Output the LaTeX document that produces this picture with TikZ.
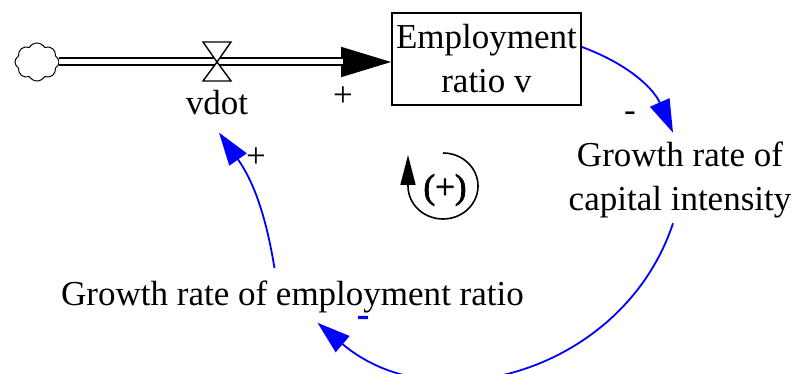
\documentclass[tikz,border=0pt]{standalone}
\usepackage{fontspec}
\newfontfamily\vensimfont{Liberation Serif}
\newfontfamily\vensimbold[FakeBold=2]{Liberation Serif}
\usepackage{xcolor}
\definecolor{linkblue}{RGB}{0,0,255}
\usetikzlibrary{arrows.meta,shapes.symbols,calc}
\tikzset{
  vensim/.style={font=\vensimfont\fontsize{30}{37.7}\selectfont, scale=1.1667},
  stockbox/.style={vensim, draw, line width=1.6pt, minimum width=162pt,
                   minimum height=78.9pt, align=center, inner sep=0pt},
  auxvar/.style={vensim, align=center, inner sep=0pt},
  link/.style={draw=linkblue, line width=1.8pt,
               -{Triangle[length=33pt,width=21pt]}},
  pipe/.style={draw, line width=2pt, double=white, double distance=5pt},
  polarity/.style={vensim, inner sep=0pt},
}

\begin{document}
\begin{tikzpicture}[x=1pt, y=1pt]
\useasboundingbox (0,0) rectangle (792,-374);

%% stock, source and flow
\node[stockbox] (ratio) at (486.5,-59) {Employment\\ratio v};
\node[cloud, draw, cloud puffs=8, cloud puff arc=120, aspect=1.2,
      minimum width=44pt, minimum height=38pt, inner sep=0pt,
      line width=1pt] (source) at (37,-62) {};
\draw[line width=1.6pt, -{Triangle[length=50pt,width=30pt]}]
  (source.east) -- (source -| ratio.west);
\draw[pipe, shorten >=48pt] (source.east) -- (source -| ratio.west);
\coordinate (valve) at (217,-62);
\draw[line width=1.4pt, fill=white]
  (valve) -- ++(-14,20) -- ++(28,0) -- cycle
  (valve) -- ++(-14,-19) -- ++(28,0) -- cycle;
\node[auxvar, anchor=base] (vdot) at (217,-115) {vdot};

%% auxiliaries
\node[auxvar] (capint) at (680,-180) {Growth rate of\\capital intensity};
\node[auxvar, anchor=base] (empgrowth) at (292.5,-305)
  {Growth rate of employment ratio};

%% causal links
\draw[link] ([yshift=12pt]ratio.east)
  to[bend left=23] ([xshift=-7pt,yshift=9pt]capint.north);
\draw[link] ([xshift=-7pt,yshift=-5pt]capint.south)
  to[bend left=56, looseness=1.08] ([xshift=25pt,yshift=-10pt]empgrowth.south);
\draw[link] ([xshift=-18pt,yshift=12pt]empgrowth.north)
  to[bend right=13] ([xshift=2pt,yshift=-17pt]vdot.south);

%% polarities
\node[polarity] (plusflow) at (343,-97) {+};
\node[polarity] (minuscap) at (630,-117) {-};
\node[polarity] (plusvdot) at (256,-158) {+};
\node[polarity, text=linkblue,
      font=\vensimbold\fontsize{30}{37.7}\selectfont]
  (minusemp) at (363,-321) {-};

%% loop marker
\coordinate (loopc) at (443,-186);
\node[vensim, font=\vensimbold\fontsize{30}{37.7}\selectfont, inner sep=0pt]
  (loopsign) at (445,-190) {(+)};
\draw[line width=1.6pt, -{Triangle[length=30pt,width=15pt]}]
  (loopc) ++(0,33) arc[start angle=90, end angle=-180,
  x radius=35pt, y radius=33pt] -- ++(0,31);
\end{tikzpicture}
\end{document}
